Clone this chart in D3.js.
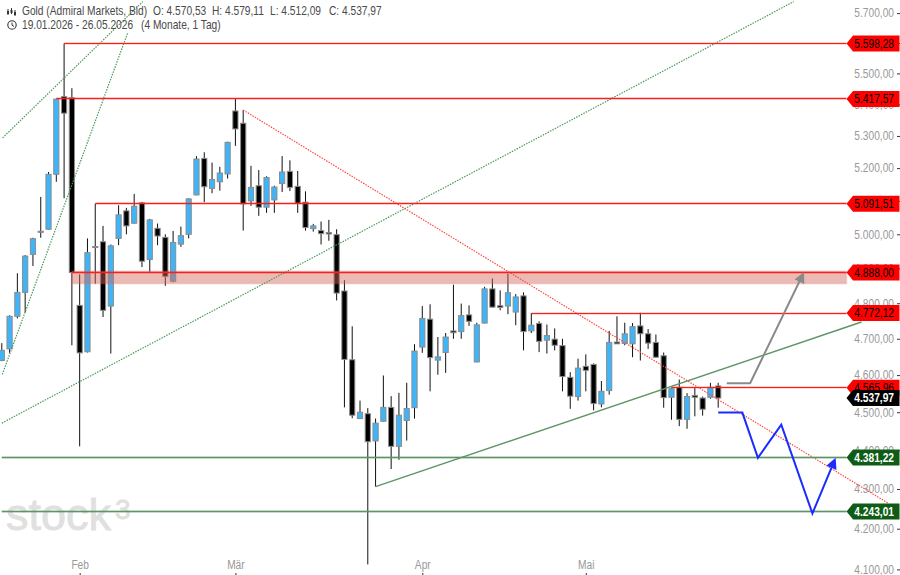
<!DOCTYPE html>
<html lang="de">
<head>
<meta charset="utf-8">
<title>Gold (Admiral Markets, Bid)</title>
<script src="https://d3js.org/d3.v7.min.js"></script>
<style>
  html, body { margin: 0; padding: 0; background: #fff; }
  svg { display: block; font-family: "Liberation Sans", Arial, sans-serif; }
</style>
</head>
<body>
<svg id="chart" width="900" height="575"></svg>
<script>
// Daily candles, 19.01.2026 onward; one entry per trading day.
const opens = [4640,4672,4763,4831,4941,5009,5015,5181,5425,5421,4794,4664,4964,4978,4792,4988,5070,5033,5094,4926,5018,4991,4863,4971,5000,5118,5230,5138,5158,5182,5379,5340,5100,5146,5081,5103,5153,5190,5144,5096,5017,5011,5005,4999,4835,4642,4483,4496,4424,4476,4513,4410,4478,4512,4677,4755,4641,4662,4722,4720,4767,4636,4744,4841,4793,4792,4775,4821,4722,4743,4696,4699,4681,4594,4542,4624,4629,4522,4558,4691,4687,4686,4736,4714,4690,4653,4540,4567,4481,4545,4538,4540,4570.53];
const highs = [4688,4766,4886,4939,4990,5112,5188,5417.57,5598.28,5452,4883,4988,5091.51,5025,4970,5087,5079,5121,5097,5046,5032,5000,5010,5023,5108,5237,5249,5217,5204,5282,5417.57,5382,5207,5194,5175,5146,5237,5224,5191,5129,5031,5038,5043,5015,4866,4735,4531,4511,4483,4599,4543,4552,4579,4685,4792,4797,4705,4716,4853,4799,4794,4745,4847,4871,4837,4885,4826,4831,4772.12,4749,4740,4729,4700,4608,4645,4657,4632,4584,4722,4763,4745,4744,4773,4727,4712,4662,4565.96,4588,4551,4567,4542,4579,4579.11];
const lows = [4638,4661,4757,4774,4907,4990,5014,5158,5108,4682,4410,4662,4856,4761,4659,4968,5000,5032,4904,4890,4968,4850,4860,4963,4988,5117,5096,5123,5131,5168,5269,5011,5085,5055,5064,5064,5127,5130,5064,5011,5008,4970,4981,4808,4513,4484,4482,4112,4306,4475,4351,4375,4425,4483,4661,4556,4601,4606,4700,4700,4736,4635,4743,4788,4780,4769,4738,4668,4716,4663,4659,4668,4556,4509,4531,4556,4505,4513,4547,4686,4682,4649,4640,4672,4648,4512,4480,4463,4456,4489,4491,4536,4512.09];
const closes = [4668,4763,4831,4936,4987,5006,5181,5417,5372,4888,4661,4946,4961,4780,4966,5058,5025,5084,4921,5043,4995,4877,4976,4996,5106,5228,5143,5165,5185,5280,5322,5091,5141,5081,5171,5142,5188,5141,5093,5020,5025,5002,5001,4829,4643,4492,4500,4422,4471,4513,4410,4492,4510,4666,4757,4648,4650,4705,4717,4765,4749,4739,4841,4789,4788,4830,4818,4720,4738,4693,4709,4682,4596,4543,4619,4613,4523,4556,4690,4686,4714,4734,4714,4688,4649,4539,4563,4481,4542,4540,4508,4567,4537.97];

// Price axis and month axis.
const priceTicks = [5700,5600,5500,5400,5300,5200,5100,5000,4900,4800,4700,4600,4500,4400,4300,4200,4100];
const monthLabels = ["Feb","Mär","Apr","Mai"];
const monthStarts = [10,30,54,75];

// Horizontal support and resistance levels: price, and the candle each one starts from.
const resistancePrices = [5598.28,5417.57,5091.51,4888.00,4772.12,4565.96];
const resistanceStarts = [8,7,12,9,68,86];
const supportPrices = [4381.22,4243.01];
const supportStarts = [0,0];
const zoneTop = 4892;
const zoneBottom = 4856;
const zoneStart = 9;
const lastClose = 4537.97;

// Trend lines as [candle index, price] pairs.
const fanLineLeft = [[0.1,5294],[18.1,5739]];
const fanLineSteep = [[0.06,4602],[16.2,5636]];
const channelLine = [[0,4471],[101.7,5739]];
const downTrend = [[31,5382],[113.9,4263]];
const upTrend = [[48,4306],[110.4,4747]];

// Drawn scenario paths.
const bullPath = [[93.1,4578],[96.1,4578],[102.6,4870]];
const bearPath = [[92,4499],[95.1,4499],[97.1,4380],[100.1,4467],[104.1,4238],[106.7,4362]];

// Price runs on a log scale through the two outer levels; candles are evenly spaced.
const x = d3.scaleLinear().domain([0, 92]).range([1.8, 718.2]);
const y = d3.scaleLog().domain([5598.28, 4243.01]).range([43.5, 511.5]);
const yCrisp = p => Math.round(y(p) - 0.5) + 0.5;

const deLocale = d3.formatLocale({ decimal: ",", thousands: ".", grouping: [3], currency: ["", "€"] });
const fmtPrice = deLocale.format(",.2f");

const svg = d3.select("#chart");
const RED = "#ff0000", DARK_GREEN = "#0f5c16", LINE_RED = "#f8201c", LINE_GREEN = "#5f9467";
const TAG_TIP = 846.5, TAG_BODY = 853, TAG_RIGHT = 899.5;
const SANS = '"Liberation Sans", Arial, sans-serif';
// The platform's label face is narrow: 12px high, set at 85% width.
const NARROW = 0.85, LABEL_SIZE = 12;

const defs = svg.append("defs");
[["head-grey", "#8a8a8a"], ["head-blue", "#1a2cff"]].forEach(([id, colour]) => {
  defs.append("marker").attr("id", id)
    .attr("viewBox", "0 0 10 10").attr("refX", 3).attr("refY", 5)
    .attr("markerUnits", "userSpaceOnUse").attr("markerWidth", 11).attr("markerHeight", 11)
    .attr("orient", "auto")
    .append("path").attr("d", "M0,0L10,5L0,10Z").attr("fill", colour);
});

// Watermark
const mark = svg.append("g").attr("fill", "#e0e0e0").attr("stroke", "#e0e0e0").attr("stroke-width", 0.8);
mark.append("text").attr("x", 6).attr("y", 530).attr("font-size", 45).text("stock");
mark.append("text").attr("x", 115).attr("y", 519).attr("font-size", 28).text("3");

// Price axis
const axisRight = d3.axisRight(y).tickValues(priceTicks).tickSize(3).tickFormat(fmtPrice);
const priceAxis = svg.append("g").attr("transform", "translate(897,0)").call(axisRight);
priceAxis.select(".domain").remove();
priceAxis.selectAll(".tick line").attr("stroke", "#333");
priceAxis.selectAll(".tick text")
  .attr("x", -3 / NARROW).attr("text-anchor", "end")
  .attr("transform", `scale(${NARROW},1)`)
  .attr("fill", "#999").attr("font-size", LABEL_SIZE).attr("font-family", SANS);

// Month axis
const axisMonths = d3.axisTop(x).tickValues(monthStarts).tickSize(2).tickPadding(4)
  .tickFormat((d, i) => monthLabels[i]);
const monthAxis = svg.append("g").attr("transform", "translate(0,575)").call(axisMonths);
monthAxis.select(".domain").remove();
monthAxis.selectAll(".tick line").attr("stroke", "#333");
monthAxis.selectAll(".tick text")
  .attr("transform", `scale(${NARROW},1)`)
  .attr("fill", "#999").attr("font-size", LABEL_SIZE).attr("font-family", SANS);

// Candles
const candles = svg.append("g").selectAll("g").data(d3.range(opens.length)).join("g");
candles.append("line")
  .attr("x1", i => x(i)).attr("x2", i => x(i))
  .attr("y1", i => y(highs[i])).attr("y2", i => y(lows[i]))
  .attr("stroke", "#111").attr("stroke-width", 1);
candles.append("rect")
  .attr("x", i => x(i) - 2.6).attr("width", 5.2)
  .attr("y", i => y(Math.max(opens[i], closes[i])))
  .attr("height", i => Math.max(1, y(Math.min(opens[i], closes[i])) - y(Math.max(opens[i], closes[i]))))
  .attr("fill", i => closes[i] >= opens[i] ? "#3db5fa" : "#000")
  .attr("stroke", "#8c8c8c").attr("stroke-width", 1);

// Resistance zone
svg.append("rect")
  .attr("x", x(zoneStart)).attr("width", TAG_TIP - x(zoneStart))
  .attr("y", y(zoneTop)).attr("height", y(zoneBottom) - y(zoneTop))
  .attr("fill", "#d4665c").attr("fill-opacity", 0.45)
  .attr("stroke", "#d4665c").attr("stroke-opacity", 0.15).attr("stroke-width", 2);

// Trend lines
const pathOf = d3.line().x(d => x(d[0])).y(d => y(d[1]));
[fanLineLeft, fanLineSteep, channelLine].forEach(pts => {
  svg.append("path").attr("d", pathOf(pts)).attr("fill", "none")
    .attr("stroke", "#4a9a58").attr("stroke-width", 1.2).attr("stroke-dasharray", "1.5 1.2");
});
svg.append("path").attr("d", pathOf(downTrend)).attr("fill", "none")
  .attr("stroke", "#ff4a40").attr("stroke-width", 1.2).attr("stroke-dasharray", "1.5 1.2");
svg.append("path").attr("d", pathOf(upTrend)).attr("fill", "none")
  .attr("stroke", LINE_GREEN).attr("stroke-width", 1.5);

// Level lines; the most recently touched resistances carry a stronger halo.
const haloed = new Set([5417.57, 5091.51, 4888.00]);
resistancePrices.forEach((p, k) => {
  const g = svg.append("g");
  g.append("line").attr("x1", x(resistanceStarts[k])).attr("x2", TAG_TIP)
    .attr("y1", yCrisp(p)).attr("y2", yCrisp(p))
    .attr("stroke", LINE_RED).attr("stroke-opacity", haloed.has(p) ? 0.25 : 0.18).attr("stroke-width", 3);
  g.append("line").attr("x1", x(resistanceStarts[k])).attr("x2", TAG_TIP)
    .attr("y1", yCrisp(p)).attr("y2", yCrisp(p))
    .attr("stroke", LINE_RED).attr("stroke-width", 1);
});
supportPrices.forEach((p, k) => {
  const g = svg.append("g");
  g.append("line").attr("x1", x(supportStarts[k])).attr("x2", TAG_TIP)
    .attr("y1", yCrisp(p)).attr("y2", yCrisp(p))
    .attr("stroke", LINE_GREEN).attr("stroke-opacity", 0.35).attr("stroke-width", 3);
  g.append("line").attr("x1", x(supportStarts[k])).attr("x2", TAG_TIP)
    .attr("y1", yCrisp(p)).attr("y2", yCrisp(p))
    .attr("stroke", LINE_GREEN).attr("stroke-width", 1);
});

// Scenario paths
svg.append("path").attr("d", pathOf(bullPath)).attr("fill", "none")
  .attr("stroke", "#8a8a8a").attr("stroke-width", 2).attr("marker-end", "url(#head-grey)");
svg.append("path").attr("d", pathOf(bearPath)).attr("fill", "none")
  .attr("stroke", "#1a2cff").attr("stroke-width", 2).attr("marker-end", "url(#head-blue)");

// Value tags on the price axis
function tag(price, fill, textFill) {
  const c = y(price), h = 8;
  const g = svg.append("g");
  g.append("path")
    .attr("d", `M${TAG_TIP},${c}L${TAG_BODY},${c - h}H${TAG_RIGHT}V${c + h}H${TAG_BODY}Z`)
    .attr("fill", fill);
  g.append("text").attr("x", 894 / NARROW).attr("y", c).attr("dy", "0.36em")
    .attr("transform", `scale(${NARROW},1)`)
    .attr("text-anchor", "end").attr("font-size", LABEL_SIZE).attr("fill", textFill)
    .attr("font-weight", textFill === "#fff" ? 700 : 400)
    .text(fmtPrice(price));
}
resistancePrices.forEach(p => tag(p, RED, "#000"));
supportPrices.forEach(p => tag(p, DARK_GREEN, "#fff"));
tag(lastClose, "#000", "#fff");

// Header
const header = svg.append("g").attr("fill", "#4a4a4a").attr("font-size", LABEL_SIZE)
  .attr("transform", `scale(${NARROW},1)`);
header.append("text").attr("x", 22 / NARROW).attr("y", 15).text("Gold (Admiral Markets, Bid)");
[["O: 4.570,53", 153], ["H: 4.579,11", 212], ["L: 4.512,09", 270], ["C: 4.537,97", 329]]
  .forEach(([t, px]) => header.append("text").attr("x", px / NARROW).attr("y", 15).text(t));
header.append("text").attr("x", 22 / NARROW).attr("y", 29).text("19.01.2026 - 26.05.2026");
header.append("text").attr("x", 141 / NARROW).attr("y", 29).text("(4 Monate, 1 Tag)");

// Candle glyph and clock glyph beside the header lines
const glyph = svg.append("g").attr("stroke", "#333").attr("fill", "none");
[[8, 9, 15], [11.5, 8, 14], [15, 10, 16]].forEach(([gx, a, b]) => {
  glyph.append("line").attr("x1", gx).attr("x2", gx).attr("y1", a).attr("y2", b).attr("stroke-width", 1);
  glyph.append("rect").attr("x", gx - 1).attr("y", a + 2).attr("width", 2).attr("height", 3)
    .attr("fill", "#333").attr("stroke", "none");
});
glyph.append("circle").attr("cx", 12).attr("cy", 25).attr("r", 4.2).attr("stroke-width", 1.1);
glyph.append("path").attr("d", "M12,22.5V25.2L14,26.4").attr("stroke-width", 1);
</script>
</body>
</html>
